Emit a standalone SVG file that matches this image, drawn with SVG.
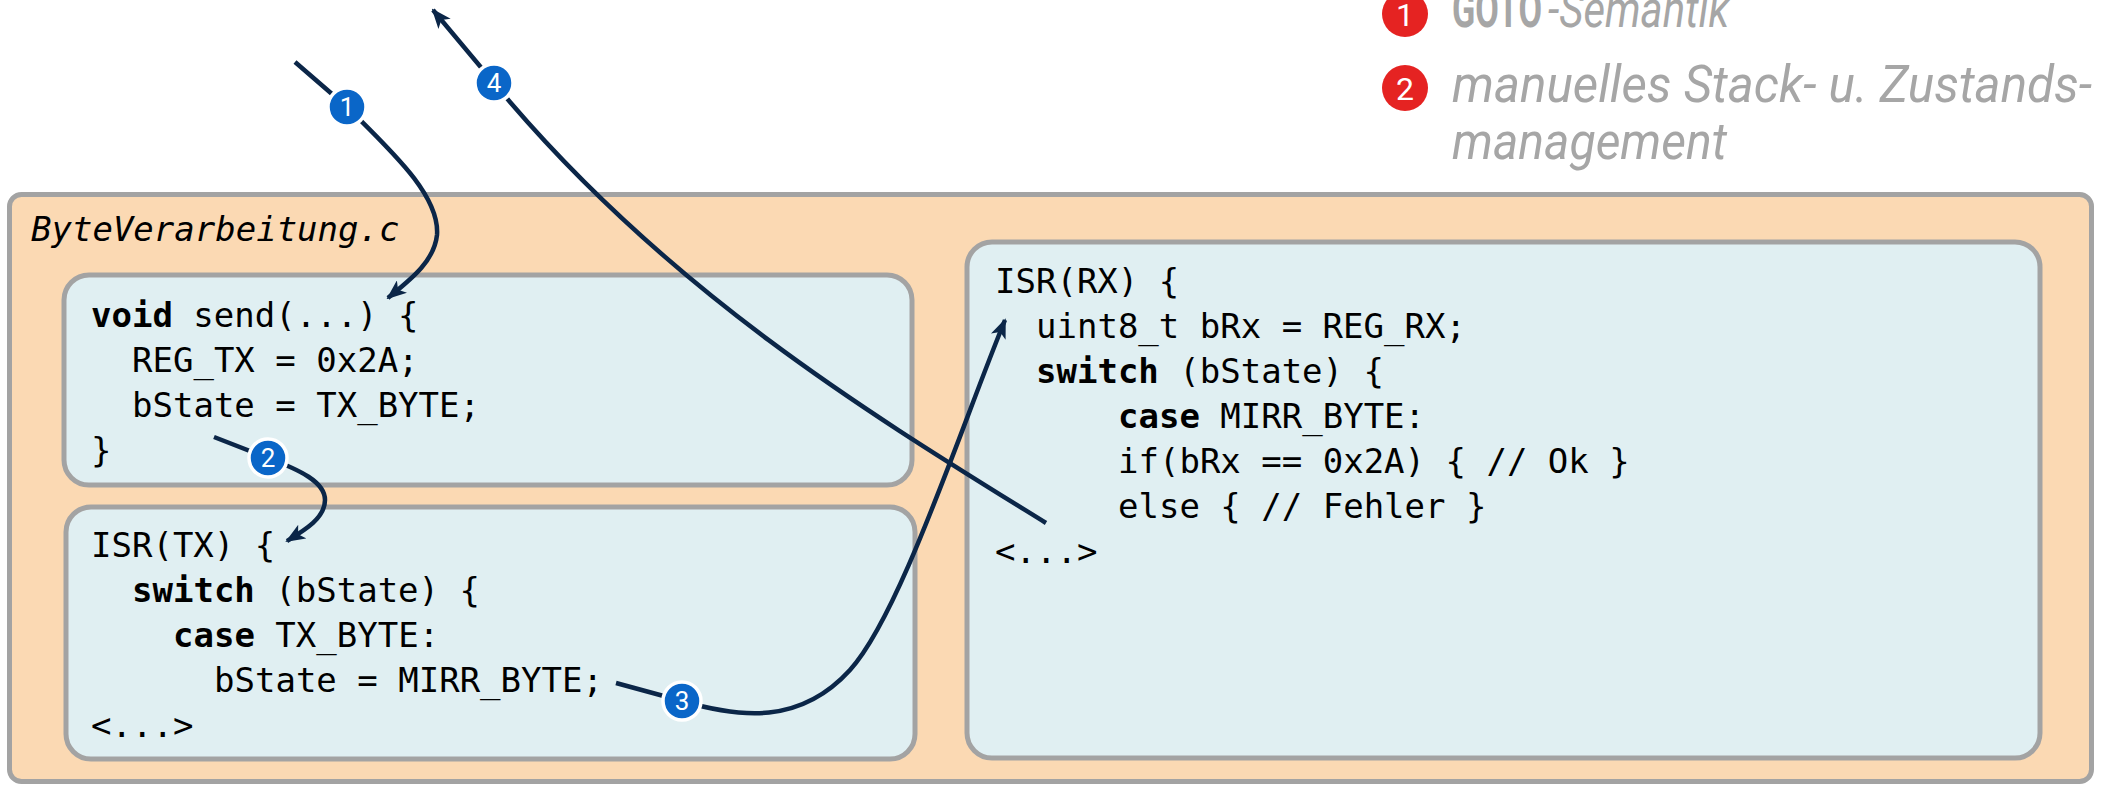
<svg xmlns="http://www.w3.org/2000/svg" width="2102" height="785" viewBox="0 0 2102 785">
  <style>
    .file { fill: #fbd9b3; stroke: #a3a3a3; stroke-width: 5; }
    .func { fill: #e0eff2; stroke: #a3a3a3; stroke-width: 5; }
    .code { font-family: "DejaVu Sans Mono", "Liberation Mono", monospace; font-size: 34px; fill: #000; }
    .kw { font-weight: bold; }
    .title { font-style: italic; }
    .flow { fill: none; stroke: #0b2648; stroke-width: 4.5; }
    .step circle { fill: #0a66c8; stroke: #ffffff; stroke-width: 3.5; }
    .step text { font-family: Roboto, "Liberation Sans", sans-serif; font-size: 26px; fill: #fff; text-anchor: middle; }
    .note circle { fill: #e52322; }
    .note text.num { font-family: Roboto, "Liberation Sans", sans-serif; font-size: 32px; fill: #fff; text-anchor: middle; }
    .legend { font-family: Roboto, "Liberation Sans", sans-serif; font-size: 52px; font-style: italic; fill: #a6a6a6; }
    .legend-strong { font-family: Roboto, "Liberation Sans", sans-serif; font-size: 52px; font-weight: bold; fill: #a6a6a6; }
  </style>
  <defs>
    <marker id="arrow" viewBox="0 0 20 16" refX="18" refY="8" markerWidth="20" markerHeight="16" markerUnits="userSpaceOnUse" orient="auto">
      <path d="M0,0 L20,8 L0,16 L5,8 z" fill="#0b2648"/>
    </marker>
  </defs>

  <!-- legend -->
  <g id="legend">
    <g class="note">
      <circle cx="1405" cy="14" r="23"/>
      <text class="num" x="1405" y="26">1</text>
      <circle cx="1405" cy="88" r="23"/>
      <text class="num" x="1405" y="100">2</text>
    </g>
    <text class="legend-strong" x="1452" y="27" textLength="90" lengthAdjust="spacingAndGlyphs">GOTO</text>
    <text class="legend" x="1548" y="27" textLength="181" lengthAdjust="spacingAndGlyphs">-Semantik</text>
    <text class="legend" x="1452" y="102" textLength="640" lengthAdjust="spacingAndGlyphs">manuelles Stack- u. Zustands-</text>
    <text class="legend" x="1452" y="159" textLength="275" lengthAdjust="spacingAndGlyphs">management</text>
  </g>

  <!-- source file container -->
  <g id="file-byteverarbeitung">
    <rect class="file" x="9.5" y="194.5" width="2082" height="587" rx="12"/>
    <text class="code title" x="31" y="241">ByteVerarbeitung.c</text>
  </g>

  <g id="func-send">
    <rect class="func" x="64" y="275" width="848" height="210" rx="25"/>
    <text class="code" x="91" y="327"><tspan class="kw">void</tspan> send(...) {</text>
    <text class="code" x="132" y="372">REG_TX = 0x2A;</text>
    <text class="code" x="132" y="417">bState = TX_BYTE;</text>
    <text class="code" x="91" y="462">}</text>
  </g>

  <g id="isr-tx">
    <rect class="func" x="66" y="507" width="849" height="252" rx="25"/>
    <text class="code" x="91" y="557">ISR(TX) {</text>
    <text class="code" x="132" y="602"><tspan class="kw">switch</tspan> (bState) {</text>
    <text class="code" x="173" y="647"><tspan class="kw">case</tspan> TX_BYTE:</text>
    <text class="code" x="214" y="692">bState = MIRR_BYTE;</text>
    <text class="code" x="91" y="737">&lt;...&gt;</text>
  </g>

  <g id="isr-rx">
    <rect class="func" x="967" y="242" width="1073" height="516" rx="25"/>
    <text class="code" x="995" y="293">ISR(RX) {</text>
    <text class="code" x="1036" y="338">uint8_t bRx = REG_RX;</text>
    <text class="code" x="1036" y="383"><tspan class="kw">switch</tspan> (bState) {</text>
    <text class="code" x="1118" y="428"><tspan class="kw">case</tspan> MIRR_BYTE:</text>
    <text class="code" x="1118" y="473">if(bRx == 0x2A) { // Ok }</text>
    <text class="code" x="1118" y="518">else { // Fehler }</text>
    <text class="code" x="995" y="563">&lt;...&gt;</text>
  </g>

  <!-- control flow -->
  <g id="connectors">
    <path class="flow" d="M295,62 L347,107 C390,150 440,195 437,235 C434,262 410,280 388,298" marker-end="url(#arrow)"/>
    <path class="flow" d="M214,437 L268,458 C300,470 325,482 325,500 C325,518 305,530 287,541" marker-end="url(#arrow)"/>
    <path class="flow" d="M616,683 L682,701 C740,718 800,725 850,670 C900,615 960,430 1005,320" marker-end="url(#arrow)"/>
    <path class="flow" d="M1046,523 C880,420 680,300 510,102 L433,10" marker-end="url(#arrow)"/>
  </g>

  <!-- step markers -->
  <g id="steps">
    <g class="step"><circle cx="347" cy="107" r="19"/><text x="347" y="116">1</text></g>
    <g class="step"><circle cx="268" cy="458" r="19"/><text x="268" y="467">2</text></g>
    <g class="step"><circle cx="682" cy="701" r="19"/><text x="682" y="710">3</text></g>
    <g class="step"><circle cx="494" cy="83" r="19"/><text x="494" y="92">4</text></g>
  </g>
</svg>
